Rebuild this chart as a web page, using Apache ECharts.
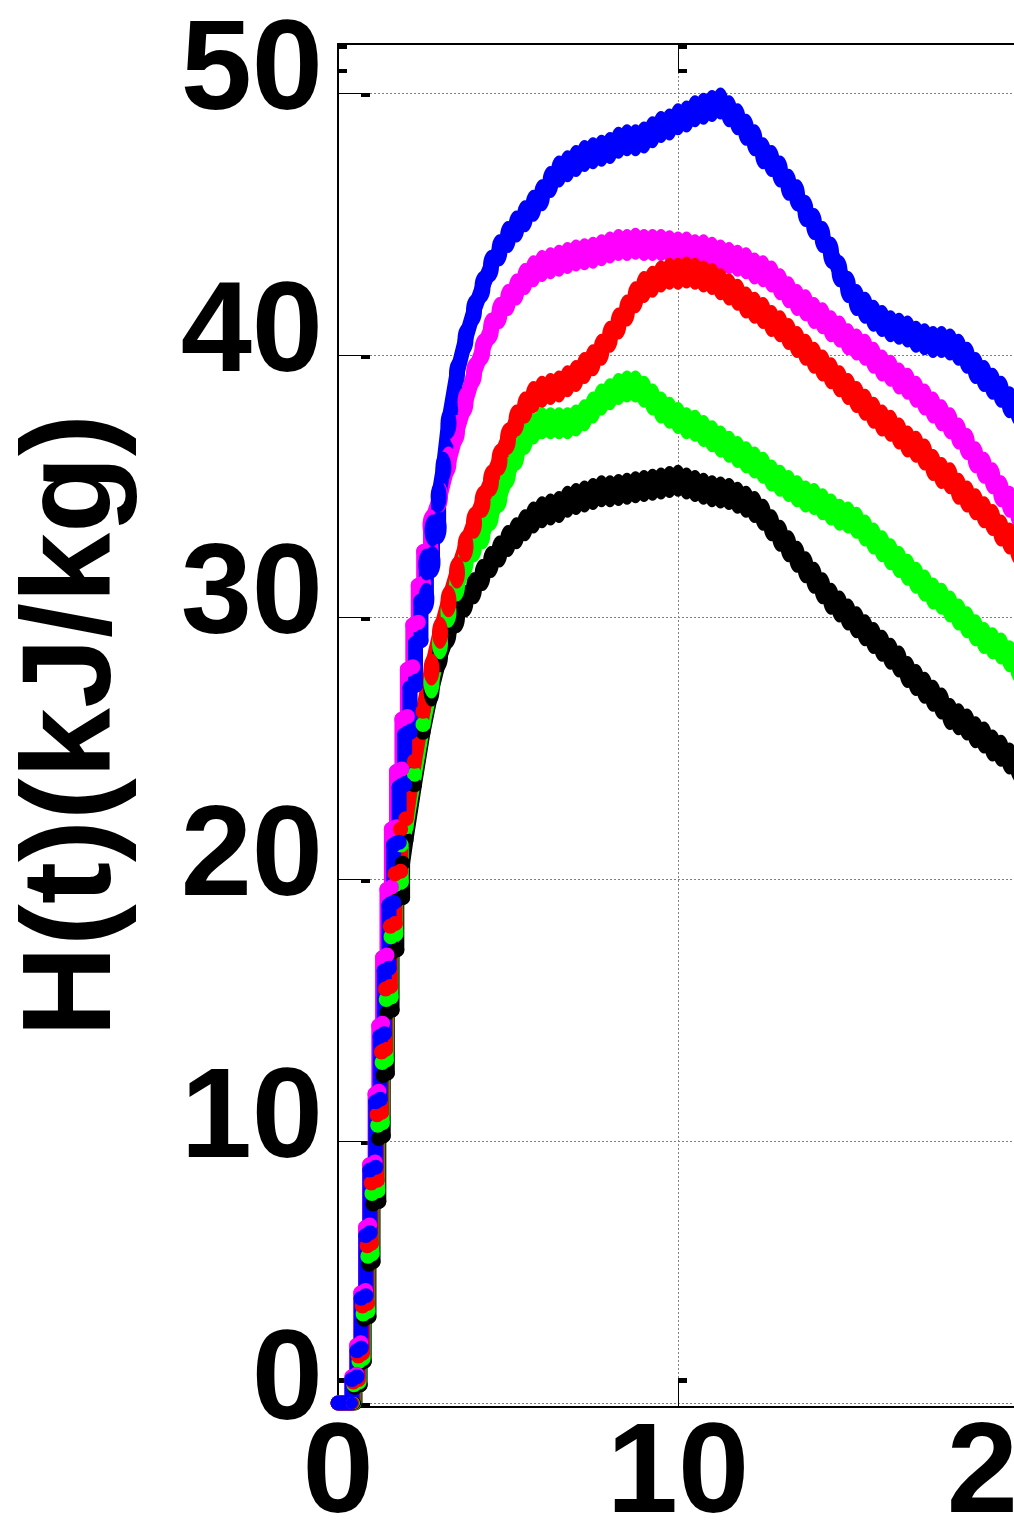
<!DOCTYPE html>
<html>
<head>
<meta charset="utf-8">
<script src="https://cdn.jsdelivr.net/npm/echarts@6/dist/echarts.min.js"></script>
<style>
  html, body { margin: 0; padding: 0; background: #fff; }
  #chart { width: 1014px; height: 1529px; }
</style>
</head>
<body>
<div id="chart"></div>
<script>
// Enthalpy H(t) in kJ/kg against time t, five runs, as [t, H] pairs.
const blueH = [[0,0],[0.41,0],[0.41,0.9],[0.56,1.0],[0.56,2.0],[0.68,2.1],[0.68,4.0],[0.82,4.1],[0.82,6.4],[0.94,6.5],[0.94,8.9],[1.11,9.0],[1.11,11.5],[1.24,11.6],[1.24,14.0],[1.36,14.1],[1.36,16.5],[1.5,16.6],[1.5,19.0],[1.64,19.1],[1.64,21.3],[1.8,21.4],[1.8,23.5],[1.96,23.6],[1.96,25.5],[2.12,25.6],[2.12,27.3],[2.28,27.4],[2.28,29.0],[2.44,29.1],[2.44,30.6],[2.6,30.7],[2.6,32.0],[2.78,32.1],[2.78,33.3],[2.96,33.4],[2.96,34.6],[3.1,35.7],[3.25,37.4],[3.5,39.3],[3.75,40.6],[4.0,41.7],[4.25,42.6],[4.5,43.4],[4.75,44.0],[5.0,44.5],[5.25,44.9],[5.5,45.3],[5.75,45.7],[6.0,46.1],[6.25,46.6],[6.5,47.0],[6.75,47.2],[7.0,47.4],[7.25,47.6],[7.5,47.7],[7.75,47.8],[8.0,47.9],[8.25,48.1],[8.5,48.2],[8.75,48.2],[9.0,48.3],[9.25,48.5],[9.5,48.7],[9.75,48.8],[10.0,49.0],[10.25,49.1],[10.5,49.3],[10.75,49.4],[11.0,49.5],[11.25,49.6],[11.5,49.3],[11.75,49.0],[12.0,48.6],[12.25,48.2],[12.5,47.7],[12.75,47.4],[13.0,47.0],[13.25,46.5],[13.5,46.1],[13.75,45.5],[14.0,45.0],[14.25,44.5],[14.5,43.9],[14.75,43.2],[15.0,42.6],[15.25,42.1],[15.5,41.8],[15.75,41.5],[16.0,41.3],[16.25,41.1],[16.5,41.0],[16.75,40.9],[17.0,40.7],[17.25,40.6],[17.5,40.5],[17.75,40.5],[18.0,40.4],[18.25,40.2],[18.5,39.9],[18.75,39.5],[19.0,39.2],[19.25,38.9],[19.5,38.6],[19.75,38.2],[20.0,37.9]];

const magentaH = [[0,0],[0.41,0],[0.41,1.0],[0.55,1.1],[0.55,2.2],[0.67,2.3],[0.67,4.2],[0.81,4.3],[0.81,6.7],[0.93,6.8],[0.93,9.1],[1.09,9.2],[1.09,11.8],[1.2,11.9],[1.2,14.4],[1.31,14.5],[1.31,17.0],[1.44,17.1],[1.44,19.6],[1.57,19.7],[1.57,21.9],[1.72,22.0],[1.72,24.1],[1.88,24.2],[1.88,26.1],[2.04,26.2],[2.04,28.0],[2.2,28.1],[2.2,29.7],[2.36,29.8],[2.36,31.2],[2.52,31.3],[2.52,32.5],[2.72,32.6],[2.72,33.5],[3.0,34.6],[3.25,35.9],[3.5,37.1],[3.75,38.2],[4.0,39.3],[4.25,40.2],[4.5,41.0],[4.75,41.6],[5.0,42.1],[5.25,42.5],[5.5,42.9],[5.75,43.2],[6.0,43.4],[6.25,43.5],[6.5,43.6],[6.75,43.7],[7.0,43.8],[7.25,43.85],[7.5,43.9],[7.75,44.0],[8.0,44.1],[8.25,44.2],[8.5,44.2],[8.75,44.25],[9.0,44.2],[9.25,44.2],[9.5,44.2],[9.75,44.15],[10.0,44.1],[10.25,44.1],[10.5,44.0],[10.75,44.0],[11.0,43.9],[11.25,43.8],[11.5,43.7],[11.75,43.6],[12.0,43.5],[12.25,43.3],[12.5,43.2],[12.75,43.0],[13.0,42.7],[13.25,42.4],[13.5,42.1],[13.75,41.9],[14.0,41.6],[14.25,41.4],[14.5,41.1],[14.75,40.9],[15.0,40.6],[15.25,40.4],[15.5,40.2],[15.75,39.9],[16.0,39.6],[16.25,39.4],[16.5,39.1],[16.75,38.9],[17.0,38.6],[17.25,38.3],[17.5,38.0],[17.75,37.7],[18.0,37.4],[18.25,37.0],[18.5,36.6],[18.75,36.1],[19.0,35.7],[19.25,35.3],[19.5,34.8],[19.75,34.4],[20.0,34.0]];

const redH = [[0,0],[0.45,0],[0.45,0.8],[0.6,0.9],[0.6,1.8],[0.72,1.9],[0.72,3.7],[0.86,3.8],[0.86,6.0],[0.98,6.1],[0.98,8.4],[1.15,8.5],[1.15,11.0],[1.28,11.1],[1.28,13.4],[1.4,13.5],[1.4,15.8],[1.54,15.9],[1.54,18.2],[1.68,18.3],[1.68,20.2],[1.84,20.3],[1.84,21.9],[2.0,22.3],[2.25,24.5],[2.5,26.4],[2.75,28.0],[3.0,29.4],[3.25,30.6],[3.5,31.7],[3.75,32.7],[4.0,33.6],[4.25,34.4],[4.5,35.2],[4.75,36.0],[5.0,36.8],[5.25,37.5],[5.5,38.0],[5.75,38.4],[6.0,38.6],[6.25,38.7],[6.5,38.8],[6.75,39.0],[7.0,39.2],[7.25,39.5],[7.5,39.8],[7.75,40.2],[8.0,40.7],[8.25,41.2],[8.5,41.7],[8.75,42.2],[9.0,42.6],[9.25,42.8],[9.5,43.0],[9.75,43.1],[10.0,43.1],[10.25,43.15],[10.5,43.1],[10.75,43.0],[11.0,42.9],[11.25,42.7],[11.5,42.5],[11.75,42.3],[12.0,42.0],[12.25,41.8],[12.5,41.6],[12.75,41.3],[13.0,41.1],[13.25,40.8],[13.5,40.5],[13.75,40.2],[14.0,39.9],[14.25,39.6],[14.5,39.3],[14.75,39.0],[15.0,38.7],[15.25,38.4],[15.5,38.1],[15.75,37.8],[16.0,37.5],[16.25,37.3],[16.5,37.0],[16.75,36.7],[17.0,36.5],[17.25,36.2],[17.5,35.8],[17.75,35.5],[18.0,35.3],[18.25,34.9],[18.5,34.6],[18.75,34.3],[19.0,34.0],[19.25,33.7],[19.5,33.3],[19.75,33.0],[20.0,32.6]];

const greenH = [[0,0],[0.47,0],[0.47,0.7],[0.62,0.8],[0.62,1.6],[0.74,1.7],[0.74,3.4],[0.88,3.5],[0.88,5.6],[1.0,5.7],[1.0,8.0],[1.17,8.1],[1.17,10.6],[1.3,10.7],[1.3,13.0],[1.42,13.1],[1.42,15.4],[1.56,15.5],[1.56,17.8],[1.7,17.9],[1.7,19.8],[1.86,19.9],[1.86,21.3],[2.0,22.0],[2.25,24.0],[2.5,25.9],[2.75,27.5],[3.0,29.0],[3.25,30.2],[3.5,31.2],[3.75,32.1],[4.0,32.7],[4.25,33.2],[4.5,33.9],[4.75,34.6],[5.0,35.5],[5.25,36.2],[5.5,36.8],[5.75,37.2],[6.0,37.4],[6.25,37.4],[6.5,37.4],[6.75,37.4],[7.0,37.5],[7.25,37.7],[7.5,38.0],[7.75,38.3],[8.0,38.5],[8.25,38.7],[8.5,38.8],[8.75,38.8],[9.0,38.6],[9.25,38.3],[9.5,38.0],[9.75,37.8],[10.0,37.6],[10.25,37.4],[10.5,37.3],[10.75,37.1],[11.0,36.9],[11.25,36.7],[11.5,36.5],[11.75,36.3],[12.0,36.1],[12.25,35.9],[12.5,35.7],[12.75,35.4],[13.0,35.2],[13.25,35.0],[13.5,34.8],[13.75,34.6],[14.0,34.5],[14.25,34.3],[14.5,34.1],[14.75,33.9],[15.0,33.8],[15.25,33.6],[15.5,33.3],[15.75,33.0],[16.0,32.7],[16.25,32.4],[16.5,32.1],[16.75,31.8],[17.0,31.5],[17.25,31.2],[17.5,30.9],[17.75,30.7],[18.0,30.4],[18.25,30.1],[18.5,29.8],[18.75,29.5],[19.0,29.2],[19.25,29.0],[19.5,28.8],[19.75,28.5],[20.0,28.1]];

const blackH = [[0,0],[0.5,0],[0.5,0.6],[0.65,0.7],[0.65,1.5],[0.77,1.6],[0.77,3.2],[0.91,3.3],[0.91,5.3],[1.03,5.4],[1.03,7.6],[1.2,7.7],[1.2,10.1],[1.33,10.2],[1.33,12.5],[1.45,12.6],[1.45,14.9],[1.59,15.0],[1.59,17.2],[1.73,17.3],[1.73,19.2],[1.9,19.3],[1.9,20.6],[2.0,21.5],[2.25,23.6],[2.5,25.6],[2.75,27.2],[3.0,28.5],[3.25,29.4],[3.5,30.0],[3.75,30.6],[4.0,31.1],[4.25,31.6],[4.5,32.1],[4.75,32.5],[5.0,32.9],[5.25,33.2],[5.5,33.5],[5.75,33.8],[6.0,34.0],[6.25,34.1],[6.5,34.2],[6.75,34.4],[7.0,34.5],[7.25,34.6],[7.5,34.7],[7.75,34.8],[8.0,34.8],[8.25,34.85],[8.5,34.9],[8.75,34.95],[9.0,35.0],[9.25,35.05],[9.5,35.1],[9.75,35.15],[10.0,35.2],[10.25,35.1],[10.5,35.0],[10.75,34.9],[11.0,34.8],[11.25,34.75],[11.5,34.7],[11.75,34.55],[12.0,34.4],[12.25,34.2],[12.5,33.9],[12.75,33.5],[13.0,33.1],[13.25,32.7],[13.5,32.3],[13.75,31.9],[14.0,31.5],[14.25,31.1],[14.5,30.7],[14.75,30.4],[15.0,30.1],[15.25,29.8],[15.5,29.5],[15.75,29.2],[16.0,28.9],[16.25,28.6],[16.5,28.3],[16.75,27.9],[17.0,27.6],[17.25,27.3],[17.5,27.0],[17.75,26.7],[18.0,26.3],[18.25,26.1],[18.5,25.9],[18.75,25.6],[19.0,25.4],[19.25,25.1],[19.5,24.9],[19.75,24.6],[20.0,24.3]];

// Tick values
const xTicks = [0, 10, 20];
const yTicks = [0, 10, 20, 30, 40, 50];

// Axis ranges
const X_MIN = 0, X_MAX = 20;
const Y_MIN = -0.15, Y_MAX = 51.87;

const PX_PER_X = 680 / (X_MAX - X_MIN);
const PX_PER_Y = 1363 / (Y_MAX - Y_MIN);
// the short square tick marks sit a few pixels off the grid lines
const xShift = 4.5 / PX_PER_X;
const yShift = 2 / PX_PER_Y;

const font = "'Liberation Sans', Arial, Helvetica, sans-serif";

// elliptical brush (1 wide, 2 tall): narrow sideways, tall up and down
const BRUSH = 'path://M1,0C1.552,0,2,0.895,2,2C2,3.105,1.552,4,1,4C0.448,4,0,3.105,0,2C0,0.895,0.448,0,1,0Z';
function brushSize(val) {
  if (val[0] === 0) return 0;
  if (val[1] < 0.5) return [12, 12];
  // steep start-up stairs: keep the brush as wide as the line
  if (val[0] < 2.6) return [15, 15];
  return [16, 32];
}

function curve(name, data, color) {
  return {
    name: name,
    type: 'line',
    data: data,
    xAxisIndex: 0,
    yAxisIndex: 0,
    symbol: BRUSH,
    symbolSize: brushSize,
    showSymbol: true,
    showAllSymbol: true,
    symbolKeepAspect: false,
    lineStyle: { color: color, width: 15, join: 'round', cap: 'round' },
    itemStyle: { color: color, borderWidth: 0 },
    emphasis: { disabled: true },
    silent: true,
    clip: true
  };
}

const gridStyle = { color: '#808080', width: 1, type: [2, 2] };
const noLine = { show: false, onZero: false };

const chart = echarts.init(document.getElementById('chart'), null, { renderer: 'canvas' });
chart.setOption({
  animation: false,
  backgroundColor: '#ffffff',
  grid: { left: 338, top: 44, width: 680, height: 1363, containLabel: false, outerBoundsMode: 'none' },
  xAxis: [
    {
      type: 'value', min: X_MIN, max: X_MAX, interval: 10, position: 'bottom',
      axisLine: { show: true, onZero: false, lineStyle: { color: '#000', width: 2 } },
      axisTick: { show: true, inside: true, length: 29, lineStyle: { color: '#000', width: 1 } },
      axisLabel: {
        show: true, color: '#000', fontFamily: font, fontWeight: 'bold', fontSize: 128,
        margin: 6, showMinLabel: true, showMaxLabel: true
      },
      splitLine: { show: true, lineStyle: gridStyle }
    },
    {
      type: 'value', min: X_MIN - xShift, max: X_MAX - xShift, position: 'bottom', offset: -24,
      axisLine: noLine,
      axisTick: { show: true, inside: true, length: 5, customValues: xTicks, lineStyle: { color: '#000', width: 9 } },
      axisLabel: { show: false }, splitLine: { show: false }
    },
    {
      type: 'value', min: X_MIN, max: X_MAX, interval: 10, position: 'top',
      axisLine: { show: true, onZero: false, lineStyle: { color: '#000', width: 2 } },
      axisTick: { show: true, inside: true, length: 29, lineStyle: { color: '#000', width: 1 } },
      axisLabel: { show: false }, splitLine: { show: false }
    },
    {
      type: 'value', min: X_MIN - xShift, max: X_MAX - xShift, position: 'top', offset: 0,
      axisLine: noLine,
      axisTick: { show: true, inside: true, length: 5, customValues: xTicks, lineStyle: { color: '#000', width: 9 } },
      axisLabel: { show: false }, splitLine: { show: false }
    },
    {
      type: 'value', min: X_MIN - xShift, max: X_MAX - xShift, position: 'top', offset: -25,
      axisLine: noLine,
      axisTick: { show: true, inside: true, length: 4, customValues: xTicks, lineStyle: { color: '#000', width: 9 } },
      axisLabel: { show: false }, splitLine: { show: false }
    }
  ],
  yAxis: [
    {
      type: 'value', min: Y_MIN, max: Y_MAX, minInterval: 10, maxInterval: 10, position: 'left',
      name: 'H(t)(kJ/kg)', nameLocation: 'middle', nameGap: 200,
      nameTextStyle: { color: '#000', fontFamily: font, fontWeight: 'bold', fontSize: 126 },
      axisLine: { show: true, onZero: false, lineStyle: { color: '#000', width: 2 } },
      axisTick: { show: true, inside: true, length: 23, customValues: yTicks, lineStyle: { color: '#000', width: 1 } },
      axisLabel: {
        show: true, customValues: yTicks, color: '#000', fontFamily: font, fontWeight: 'bold',
        fontSize: 128, margin: 15, verticalAlign: 'bottom', lineHeight: 38
      },
      splitLine: { show: true, lineStyle: gridStyle }
    },
    {
      type: 'value', min: Y_MIN + yShift, max: Y_MAX + yShift, position: 'left', offset: -23,
      axisLine: noLine,
      axisTick: { show: true, inside: true, length: 9, customValues: yTicks, lineStyle: { color: '#000', width: 4 } },
      axisLabel: { show: false }, splitLine: { show: false }
    }
  ],
  series: [
    curve('black', blackH, '#000000'),
    curve('green', greenH, '#00ff00'),
    curve('magenta', magentaH, '#ff00ff'),
    curve('red', redH, '#ff0000'),
    curve('blue', blueH, '#0000ff')
  ]
});
</script>
</body>
</html>
